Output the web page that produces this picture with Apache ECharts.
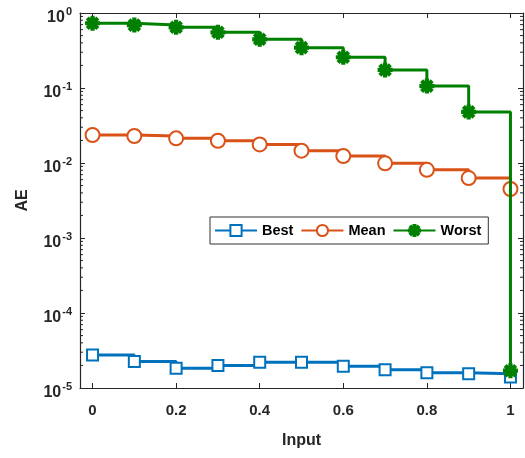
<!DOCTYPE html>
<html>
<head>
<meta charset="utf-8">
<script src="https://cdn.jsdelivr.net/npm/echarts@6/dist/echarts.min.js"></script>
<style>html,body{margin:0;padding:0;background:#fff}#c{width:525px;height:458px}</style>
</head>
<body>
<div id="c"></div>
<script>
const xValues = [0, 0.1, 0.2, 0.3, 0.4, 0.5, 0.6, 0.7, 0.8, 0.9, 1];
const bestValues = [2.75e-5, 2.25e-5, 1.83e-5, 2.0e-5, 2.2e-5, 2.2e-5, 1.95e-5, 1.75e-5, 1.6e-5, 1.55e-5, 1.4e-5];
const meanValues = [0.0236, 0.0229, 0.0213, 0.0198, 0.0177, 0.0146, 0.0124, 0.0099, 0.0081, 0.0063, 0.0045];
const worstValues = [0.73, 0.69, 0.645, 0.553, 0.446, 0.345, 0.257, 0.174, 0.106, 0.048, 1.7e-5];
const xTicks = [0, 0.2, 0.4, 0.6, 0.8, 1];
const yTicks = [1e-5, 1e-4, 1e-3, 1e-2, 1e-1, 1];
const seriesNames = ['Best', 'Mean', 'Worst'];
const colors = ['#0072BD', '#D95319', '#008000'];

const minorTicks = [];
for (let k = -5; k < 0; k++) for (let m = 2; m <= 9; m++) minorTicks.push(m * Math.pow(10, k));

function starPath() {
  let p = '';
  const w = 0.17;
  for (let i = 0; i < 4; i++) {
    const a = i * Math.PI / 4;
    const c = Math.cos(a), s = Math.sin(a);
    const pts = [[-1, -w], [1, -w], [1, w], [-1, w]].map(([x, y]) => [x * c - y * s, x * s + y * c]);
    p += 'M' + pts.map(q => q[0].toFixed(3) + ' ' + q[1].toFixed(3)).join(' L') + ' Z ';
  }
  return 'path://' + p;
}

const pair = (ys) => xValues.map((x, i) => [x, ys[i]]);
const axisColor = '#262626';
const labelFont = {fontFamily: 'Liberation Sans, Arial, sans-serif', fontWeight: 'bold', color: axisColor};

const chart = echarts.init(document.getElementById('c'), null, {renderer: 'canvas'});
chart.setOption({
  animation: false,
  grid: {left: 80, right: 2, top: 13, bottom: 70},
  legend: {
    data: seriesNames,
    left: 210, top: 217,
    itemWidth: 42, itemHeight: 14, itemGap: 7,
    padding: [6, 7, 6, 4],
    borderColor: '#333', borderWidth: 1, backgroundColor: '#fff', borderRadius: 0,
    textStyle: Object.assign({fontSize: 14.5}, labelFont, {color: '#000'})
  },
  xAxis: [{
    type: 'value', min: -0.03, max: 1.03,
    name: 'Input', nameLocation: 'middle', nameGap: 45,
    nameTextStyle: Object.assign({fontSize: 16}, labelFont),
    axisLine: {show: true, onZero: false, lineStyle: {color: axisColor, width: 1.2}},
    axisTick: {show: true, inside: true, length: 5, customValues: xTicks, lineStyle: {color: axisColor}},
    axisLabel: Object.assign({fontSize: 15, margin: 15, customValues: xTicks, formatter: v => String(Math.round(v * 10) / 10)}, labelFont),
    splitLine: {show: false}
  }, {
    type: 'value', min: -0.03, max: 1.03, position: 'top',
    axisLine: {show: true, onZero: false, lineStyle: {color: axisColor, width: 1.2}},
    axisTick: {show: true, inside: true, length: 5, customValues: xTicks, lineStyle: {color: axisColor}},
    axisLabel: {show: false}, splitLine: {show: false}
  }],
  yAxis: [{
    type: 'log', logBase: 10, min: 1e-5, max: 1,
    name: 'AE', nameLocation: 'middle', nameGap: 49,
    nameTextStyle: Object.assign({fontSize: 16}, labelFont),
    axisLine: {show: true, onZero: false, lineStyle: {color: axisColor, width: 1.2}},
    axisTick: {show: true, inside: true, length: 5, customValues: yTicks, lineStyle: {color: axisColor}},
    axisLabel: {
      margin: 8, customValues: yTicks,
      formatter: v => '{b|10}{s|' + Math.round(Math.log10(v)) + '}',
      rich: {
        b: Object.assign({fontSize: 16, padding: [10, 0, 0, 0]}, labelFont),
        s: Object.assign({fontSize: 11, verticalAlign: 'top', padding: [6, 0, 0, 1]}, labelFont)
      }
    },
    splitLine: {show: false}
  }, {
    type: 'log', logBase: 10, min: 1e-5, max: 1, position: 'right',
    axisLine: {show: true, onZero: false, lineStyle: {color: axisColor, width: 1.2}},
    axisTick: {show: true, inside: true, length: 5, customValues: yTicks, lineStyle: {color: axisColor}},
    axisLabel: {show: false}, splitLine: {show: false}
  }],
  series: [
    {
      name: 'Best', type: 'line', step: 'end', data: pair(bestValues),
      symbol: 'emptyRect', symbolSize: 11,
      lineStyle: {color: colors[0], width: 3},
      itemStyle: {color: colors[0], borderWidth: 2.5}, z: 3
    },
    {
      name: 'Mean', type: 'line', step: 'end', data: pair(meanValues),
      symbol: 'emptyCircle', symbolSize: 14,
      lineStyle: {color: colors[1], width: 3},
      itemStyle: {color: colors[1], borderWidth: 2.5}, z: 3
    },
    {
      name: 'Worst', type: 'line', step: 'end', data: pair(worstValues),
      symbol: starPath(), symbolSize: 13, symbolKeepAspect: true,
      lineStyle: {color: colors[2], width: 3},
      itemStyle: {color: colors[2], borderColor: colors[2], borderWidth: 2}, z: 4
    },
    {
      type: 'custom', silent: true, clip: false, z: 1,
      data: minorTicks.map(v => [0, v]),
      renderItem: (params, api) => {
        const cs = params.coordSys;
        const y = api.coord([0, api.value(1)])[1];
        const st = {stroke: axisColor, lineWidth: 1};
        return {type: 'group', children: [
          {type: 'line', shape: {x1: cs.x, y1: y, x2: cs.x + 3, y2: y}, style: st},
          {type: 'line', shape: {x1: cs.x + cs.width, y1: y, x2: cs.x + cs.width - 3, y2: y}, style: st}
        ]};
      }
    }
  ]
});
</script>
</body>
</html>
